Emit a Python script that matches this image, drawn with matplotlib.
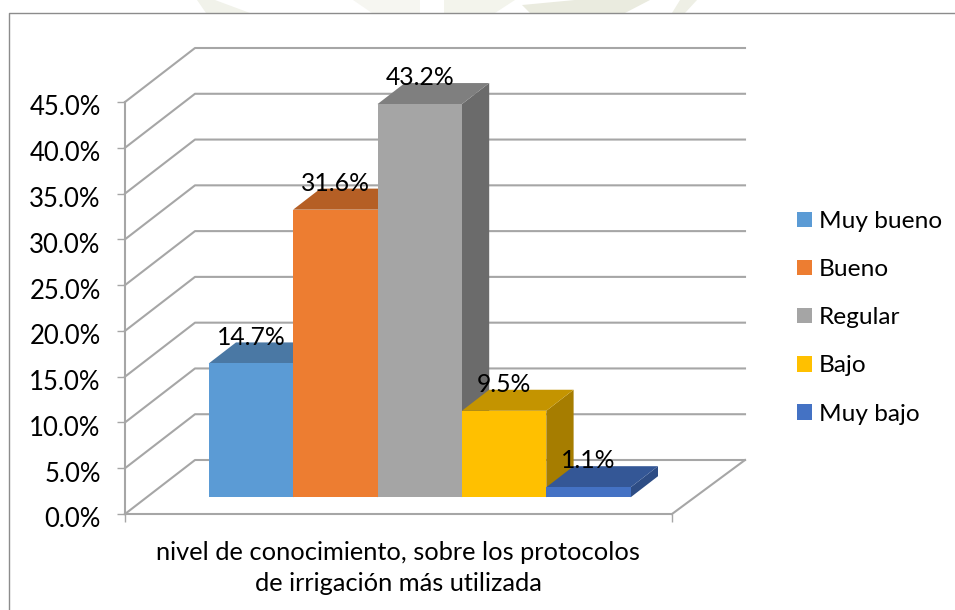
import matplotlib
matplotlib.use('Agg')
import matplotlib.pyplot as plt
from matplotlib.lines import Line2D
from matplotlib.patches import Patch, Polygon
from matplotlib.transforms import ScaledTranslation

plt.rcParams['font.family'] = ['Lato', 'DejaVu Sans']

categories = ['Muy bueno', 'Bueno', 'Regular', 'Bajo', 'Muy bajo']
values = [14.7, 31.6, 43.2, 9.5, 1.1]
y_ticks = [0, 5, 10, 15, 20, 25, 30, 35, 40, 45]
x_title = 'nivel de conocimiento, sobre los protocolos\nde irrigación más utilizada'

front_colors = ['#5B9BD5', '#ED7D31', '#A5A5A5', '#FFC000', '#4472C4']
top_colors = ['#4A78A4', '#B55F25', '#7F7F7F', '#C49400', '#345796']
side_colors = ['#3F6A94', '#A05420', '#6B6B6B', '#A67D00', '#2E4D85']

grid_color = '#A6A6A6'

# floor depth of the fake 3d box, in data units
depth_x = 70 / 84.4
depth_y = 54 / 9.156
x_max = 547 / 84.4
back_extra = 3 / 84.4
bar_start = 62 / 84.4
depth_front = 0.31
depth_back = 0.70
bar_scale = 0.994


def project(x, y, d):
    return (x + d * depth_x, y + d * depth_y)


fig = plt.figure(figsize=(9.55, 6.1), dpi=100)

# faint watermark of the scanned page, only shows above the chart frame
for pts, c in [([(197, 0), (215, 0), (250, 13), (206, 13)], '#F1F2EA'),
               ([(353, 0), (420, 0), (420, 13), (372, 13)], '#F6F6F1'),
               ([(444, 0), (515, 0), (495, 13), (444, 13)], '#F3F4EC'),
               ([(522, 5), (575, 0), (650, 0), (625, 13), (530, 13)], '#EAEBDF'),
               ([(680, 0), (697, 0), (685, 13), (672, 13)], '#EEEFE5')]:
    fig.add_artist(Polygon([(x / 955, 1 - y / 610) for x, y in pts], fc=c, ec='none',
                           transform=fig.transFigure))

ax = fig.add_axes([125 / 955, (610 - 514) / 610, 547 / 955, 412 / 610])
ax.set_xlim(0, x_max)
ax.set_ylim(0, 45)
ax.patch.set_alpha(0)

for s in ['top', 'right']:
    ax.spines[s].set_visible(False)
for s in ['left', 'bottom']:
    ax.spines[s].set_color(grid_color)
    ax.spines[s].set_linewidth(1.5)

ax.set_yticks(y_ticks)
ax.set_yticklabels([f'{t:.1f}%' for t in y_ticks], fontsize=18.5, color='black')
ax.set_xticks([0, x_max])
ax.set_xticklabels(['', ''])
ax.tick_params(axis='y', length=5.5, width=1, color=grid_color, pad=12)
ax.tick_params(axis='x', length=5.5, width=1, color=grid_color)

# tick labels sit a little below their ticks in the original
nudge = ScaledTranslation(0, -2.5 / 72, fig.dpi_scale_trans)
for label in ax.get_yticklabels():
    label.set_transform(label.get_transform() + nudge)

# walls: diagonal on the left wall, then straight along the back
for t in y_ticks:
    xs, ys = zip(project(0, t, 0), project(0, t, 1), project(x_max + back_extra, t, 1))
    ax.plot(xs, ys, color=grid_color, lw=1.5, clip_on=False, zorder=1)
xs, ys = zip(project(x_max + back_extra, 0, 1), project(x_max, 0, 0))
ax.plot(xs, ys, color=grid_color, lw=1.5, clip_on=False, zorder=1)

# bars, left to right so each one hides the side of the one before
for i, v in enumerate(values):
    x0 = bar_start + i
    x1 = x0 + 1
    h = v * bar_scale
    front = [project(x0, 0, depth_front), project(x1, 0, depth_front),
             project(x1, h, depth_front), project(x0, h, depth_front)]
    top = [project(x0, h, depth_front), project(x1, h, depth_front),
           project(x1, h, depth_back), project(x0, h, depth_back)]
    side = [project(x1, 0, depth_front), project(x1, 0, depth_back),
            project(x1, h, depth_back), project(x1, h, depth_front)]
    z = 2 + i
    ax.add_patch(Polygon(side, fc=side_colors[i], ec='none', clip_on=False, zorder=z))
    ax.add_patch(Polygon(top, fc=top_colors[i], ec='none', clip_on=False, zorder=z))
    ax.add_patch(Polygon(front, fc=front_colors[i], ec='none', clip_on=False, zorder=z))

for i, v in enumerate(values):
    lx, ly = project(bar_start + i + 0.5, v * bar_scale, depth_front)
    ax.annotate(f'{v:.1f}%', (lx, ly), xytext=(0, 19), textcoords='offset points',
                ha='center', va='center', fontsize=17.8, color='black', zorder=10,
                annotation_clip=False)

fig.text(398 / 955, 1 - 568 / 610, x_title, ha='center', va='center',
         fontsize=18.3, color='black', linespacing=1.42)

handles = [Patch(fc=c, ec='none') for c in front_colors]
fig.legend(handles, categories, loc='upper left', bbox_to_anchor=(797 / 955, 1 - 211 / 610),
           frameon=False, fontsize=17.6, handlelength=0.6, handleheight=0.6,
           handletextpad=0.28, labelspacing=1.11, borderpad=0, borderaxespad=0)

# chart frame, runs off the right and bottom of the picture
fig.add_artist(Line2D([9 / 955, 9 / 955, 1], [0, 1 - 12.5 / 610, 1 - 12.5 / 610],
                      color='#8C8C8C', lw=1))

fig.savefig('out.png', dpi=100)
